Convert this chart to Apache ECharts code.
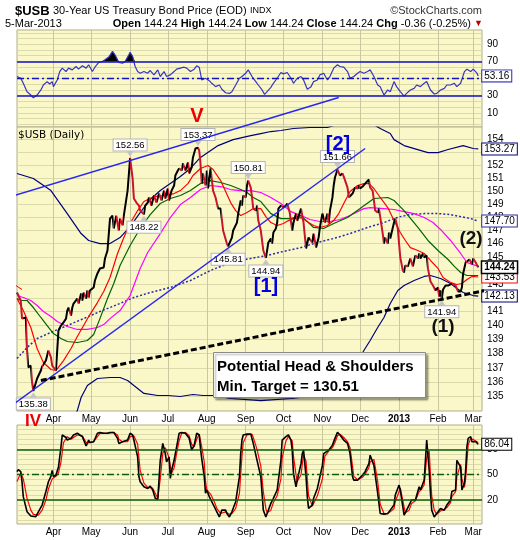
<!DOCTYPE html>
<html><head><meta charset="utf-8">
<script src="https://cdn.jsdelivr.net/npm/echarts@6/dist/echarts.min.js"></script>
<style>html,body{margin:0;padding:0;background:#fff}#c{width:520px;height:540px}</style>
</head><body><div id="c"></div>
<script>
// ---------- tick labels ----------
const monthTicks = ['2012-04-01','2012-05-01','2012-06-01','2012-07-01','2012-08-01','2012-09-01','2012-10-01','2012-11-01','2012-12-01','2013-01-01','2013-02-01','2013-03-01'];
const priceTicks = [135,136,137,138,139,140,141,142,143,144,145,146,147,148,149,150,151,152,153,154];
const rsiTicks = [10,30,50,70,90];
const rsiGridLines = [-3.33,3.33,10,16.67,23.33,30,36.67,43.33,50,56.67,63.33,70,76.67,83.33,90,96.67,103.33];
const stochTicks = [20,50,80];
const stochGridLines = [-4,2,8,14,20,26,32,38,44,50,56,62,68,74,80,86,92,98,104];
const quoteLine = [['Open','144.24'],['High','144.24'],['Low','144.24'],['Close','144.24'],['Chg','-0.36 (-0.25%)']];

// ---------- data ----------
const usbClose = [
['2012-03-03',142.39],['2012-03-06',141.81],['2012-03-07',140.50],['2012-03-08',140.36],['2012-03-10',140.58],
['2012-03-11',138.22],['2012-03-12',137.02],['2012-03-14',137.16],['2012-03-15',135.97],['2012-03-16',135.38],
['2012-03-19',136.25],['2012-03-22',136.81],['2012-03-23',137.09],['2012-03-24',137.02],['2012-03-26',137.51],
['2012-03-27',137.87],['2012-03-28',138.22],['2012-03-30',137.73],['2012-03-31',137.16],['2012-04-03',136.81],
['2012-04-04',138.22],['2012-04-05',139.65],['2012-04-07',140.00],['2012-04-09',140.22],['2012-04-11',140.50],
['2012-04-12',141.08],['2012-04-13',141.30],['2012-04-15',140.72],['2012-04-16',141.30],['2012-04-17',141.59],
['2012-04-20',141.95],['2012-04-21',141.59],['2012-04-23',142.32],['2012-04-24',141.81],['2012-04-25',142.39],
['2012-04-27',141.95],['2012-04-28',142.54],['2012-04-29',142.03],['2012-04-30',142.54],['2012-05-03',142.76],
['2012-05-04',143.27],['2012-05-06',143.79],['2012-05-07',143.86],['2012-05-08',144.16],['2012-05-11',144.23],
['2012-05-12',144.90],['2012-05-14',145.49],['2012-05-16',147.89],['2012-05-18',148.12],['2012-05-19',147.14],
['2012-05-21',148.12],['2012-05-23',146.99],['2012-05-24',147.89],['2012-05-26',147.37],['2012-05-27',148.12],
['2012-05-30',150.03],['2012-06-01',152.56],['2012-06-03',150.96],['2012-06-04',149.42],['2012-06-06',149.11],
['2012-06-08',148.88],['2012-06-09',148.50],['2012-06-12',148.22],['2012-06-13',148.88],['2012-06-15',149.11],
['2012-06-16',149.50],['2012-06-18',148.88],['2012-06-20',149.65],['2012-06-22',149.11],['2012-06-24',149.80],
['2012-06-26',149.27],['2012-06-28',150.03],['2012-06-29',149.42],['2012-07-01',150.19],['2012-07-02',149.27],
['2012-07-04',150.03],['2012-07-06',150.42],['2012-07-07',151.19],['2012-07-09',151.58],['2012-07-10',151.74],
['2012-07-12',151.58],['2012-07-13',152.13],['2012-07-15',151.58],['2012-07-17',152.21],['2012-07-18',151.35],
['2012-07-20',151.82],['2012-07-21',152.60],['2012-07-23',153.30],['2012-07-25',153.37],['2012-07-26',153.14],
['2012-07-27',152.13],['2012-07-28',150.57],['2012-07-29',151.35],['2012-07-31',150.42],['2012-08-01',151.58],
['2012-08-02',150.19],['2012-08-04',151.74],['2012-08-06',150.03],['2012-08-08',149.50],['2012-08-10',148.65],
['2012-08-12',148.65],['2012-08-14',146.99],['2012-08-17',146.01],['2012-08-18',145.81],['2012-08-21',146.46],
['2012-08-22',146.99],['2012-08-25',147.59],['2012-08-26',148.27],['2012-08-28',149.27],['2012-08-29',148.88],
['2012-08-30',149.65],['2012-09-01',149.50],['2012-09-02',150.42],['2012-09-03',150.81],['2012-09-05',150.26],
['2012-09-06',149.50],['2012-09-07',148.65],['2012-09-09',148.50],['2012-09-10',148.88],['2012-09-11',147.74],
['2012-09-13',146.99],['2012-09-15',145.49],['2012-09-17',144.94],['2012-09-18',145.49],['2012-09-19',146.09],
['2012-09-21',146.39],['2012-09-22',146.01],['2012-09-23',146.84],['2012-09-25',147.14],['2012-09-26',147.59],
['2012-09-27',148.65],['2012-09-29',148.88],['2012-10-01',148.73],['2012-10-03',148.88],['2012-10-04',149.04],
['2012-10-06',148.35],['2012-10-08',146.99],['2012-10-09',147.59],['2012-10-11',148.27],['2012-10-12',147.74],
['2012-10-15',148.65],['2012-10-16',148.50],['2012-10-17',147.59],['2012-10-19',145.64],['2012-10-21',146.46],
['2012-10-22',146.61],['2012-10-24',146.09],['2012-10-25',146.76],['2012-10-27',145.71],['2012-10-29',146.46],
['2012-10-30',147.22],['2012-11-01',148.27],['2012-11-02',148.35],['2012-11-03',147.59],['2012-11-05',148.27],
['2012-11-06',147.52],['2012-11-07',148.50],['2012-11-09',149.50],['2012-11-10',150.42],['2012-11-11',151.04],
['2012-11-13',151.66],['2012-11-15',151.19],['2012-11-17',151.35],['2012-11-18',151.11],['2012-11-21',150.26],
['2012-11-22',149.50],['2012-11-23',149.42],['2012-11-25',149.80],['2012-11-26',150.03],['2012-11-27',150.26],
['2012-11-29',150.19],['2012-11-30',150.42],['2012-12-01',150.19],['2012-12-03',150.34],['2012-12-05',150.57],
['2012-12-08',150.88],['2012-12-09',150.26],['2012-12-11',150.03],['2012-12-12',149.27],['2012-12-13',148.50],
['2012-12-15',148.35],['2012-12-16',148.65],['2012-12-17',148.50],['2012-12-19',146.76],['2012-12-20',146.01],
['2012-12-21',146.46],['2012-12-23',146.01],['2012-12-24',146.84],['2012-12-25',146.39],['2012-12-28',147.59],
['2012-12-29',147.89],['2012-12-31',147.14],['2013-01-01',146.01],['2013-01-02',144.97],['2013-01-04',144.01],
['2013-01-05',143.86],['2013-01-06',144.38],['2013-01-08',144.31],['2013-01-09',144.60],['2013-01-10',144.90],
['2013-01-12',144.31],['2013-01-13',144.75],['2013-01-14',145.12],['2013-01-16',144.90],['2013-01-17',145.27],
['2013-01-18',144.90],['2013-01-20',145.27],['2013-01-21',144.97],['2013-01-23',145.12],['2013-01-24',144.16],
['2013-01-26',143.20],['2013-01-28',142.90],['2013-01-30',142.54],['2013-02-01',142.76],['2013-02-02',142.10],
['2013-02-03',142.54],['2013-02-04',141.94],['2013-02-05',142.61],['2013-02-07',142.90],['2013-02-09',142.90],
['2013-02-12',143.05],['2013-02-15',142.90],['2013-02-17',142.46],['2013-02-19',142.46],['2013-02-20',142.76],
['2013-02-21',143.79],['2013-02-23',144.60],['2013-02-24',144.53],['2013-02-26',144.82],['2013-02-28',144.46],
['2013-03-01',144.90],['2013-03-03',144.60],['2013-03-05',144.24]
];
const peakHighs = [['2012-06-01',152.56],['2012-07-25',153.37],['2012-09-03',150.81],['2012-11-13',151.66]];
const peakLows = [['2012-03-16',135.38],['2012-06-12',148.22],['2012-08-18',145.81],['2012-09-17',144.94],['2013-02-04',141.94]];

const maRed = [
['2012-03-03',141.95],['2012-03-08',141.08],['2012-03-14',139.86],['2012-03-19',138.36],['2012-03-24',137.37],
['2012-03-30',136.88],['2012-04-03',136.81],['2012-04-09',137.51],['2012-04-15',138.36],['2012-04-20',139.22],
['2012-04-25',140.00],['2012-04-30',140.79],['2012-05-06',141.66],['2012-05-11',142.46],['2012-05-16',143.49],
['2012-05-22',145.27],['2012-05-27',146.46],['2012-06-01',147.52],['2012-06-07',148.50],['2012-06-12',149.19],
['2012-06-20',149.57],['2012-06-28',149.65],['2012-07-06',149.80],['2012-07-11',150.03],['2012-07-17',150.57],
['2012-07-21',151.19],['2012-07-27',151.74],['2012-08-02',151.97],['2012-08-06',151.66],['2012-08-12',150.80],
['2012-08-16',149.96],['2012-08-20',149.11],['2012-08-24',148.50],['2012-08-28',148.12],['2012-09-02',148.35],
['2012-09-07',148.65],['2012-09-13',148.65],['2012-09-17',148.04],['2012-09-21',147.59],['2012-09-26',147.37],
['2012-10-01',147.52],['2012-10-05',147.74],['2012-10-09',147.89],['2012-10-15',147.97],['2012-10-21',147.59],
['2012-10-25',147.37],['2012-10-30',147.22],['2012-11-05',147.37],['2012-11-10',147.74],['2012-11-14',148.27],
['2012-11-18',149.04],['2012-11-23',149.96],['2012-11-29',150.42],['2012-12-04',150.57],['2012-12-08',150.57],
['2012-12-12',150.19],['2012-12-17',149.50],['2012-12-23',148.73],['2012-12-28',147.74],['2013-01-02',146.84],
['2013-01-06',146.24],['2013-01-10',145.71],['2013-01-16',145.49],['2013-01-21',145.27],['2013-01-26',144.75],
['2013-02-01',144.16],['2013-02-05',143.49],['2013-02-11',143.12],['2013-02-16',142.98],['2013-02-20',143.05],
['2013-02-24',143.35],['2013-02-28',143.57],['2013-03-05',143.53]
];
const maGreen = [
['2012-03-03',141.95],['2012-03-06',141.81],['2012-03-11',141.81],['2012-03-16',141.30],['2012-03-22',140.58],
['2012-03-27',140.00],['2012-04-01',139.43],['2012-04-07',139.07],['2012-04-12',138.86],['2012-04-20',138.79],
['2012-04-28',138.93],['2012-05-03',139.36],['2012-05-08',140.50],['2012-05-14',141.95],['2012-05-19',143.05],
['2012-05-24',144.38],['2012-06-01',145.86],['2012-06-09',147.14],['2012-06-17',148.19],['2012-06-25',149.04],
['2012-07-03',149.42],['2012-07-11',149.65],['2012-07-19',150.03],['2012-07-27',150.57],['2012-08-04',150.80],
['2012-08-12',150.65],['2012-08-20',150.42],['2012-08-28',150.11],['2012-09-02',149.88],['2012-09-07',149.50],
['2012-09-13',149.19],['2012-09-21',148.27],['2012-09-29',147.89],['2012-10-07',147.89],['2012-10-15',148.12],
['2012-10-25',147.22],['2012-11-02',147.14],['2012-11-10',147.52],['2012-11-21',147.97],['2012-12-01',148.65],
['2012-12-12',149.42],['2012-12-23',149.50],['2012-12-28',149.27],['2013-01-05',148.50],['2013-01-16',147.22],
['2013-01-24',146.24],['2013-02-01',145.49],['2013-02-09',144.82],['2013-02-14',144.31],['2013-02-19',143.86],
['2013-02-24',143.64],['2013-03-05',143.64]
];
const maMagenta = [
['2012-03-03',142.17],['2012-03-08',142.03],['2012-03-14',141.81],['2012-03-19',141.45],['2012-03-24',141.01],
['2012-03-30',140.65],['2012-04-04',140.29],['2012-04-12',139.93],['2012-04-20',139.72],['2012-04-28',139.72],
['2012-05-06',139.86],['2012-05-11',140.07],['2012-05-16',140.50],['2012-05-24',141.08],['2012-06-01',142.17],
['2012-06-09',144.16],['2012-06-15',145.34],['2012-06-25',146.76],['2012-07-03',147.97],['2012-07-11',148.96],
['2012-07-19',149.50],['2012-07-27',150.11],['2012-08-04',150.42],['2012-08-12',150.34],['2012-08-20',150.11],
['2012-08-28',150.03],['2012-09-05',150.03],['2012-09-13',149.88],['2012-09-21',149.50],['2012-09-29',149.04],
['2012-10-07',148.42],['2012-10-15',148.12],['2012-10-22',147.82],['2012-10-30',147.67],['2012-11-07',147.67],
['2012-11-15',147.82],['2012-11-23',148.12],['2012-11-29',148.42],['2012-12-04',148.65],['2012-12-09',148.73],
['2012-12-20',148.65],['2012-12-28',148.58],['2013-01-05',148.42],['2013-01-13',148.27],['2013-01-21',147.97],
['2013-01-28',147.59],['2013-02-03',147.07],['2013-02-11',146.24],['2013-02-19',145.27],['2013-02-24',144.60],
['2013-03-05',144.31]
];
const ma200 = [
['2012-03-03',137.65],['2012-03-11',138.43],['2012-03-19',139.07],['2012-03-30',139.51],['2012-04-12',140.00],
['2012-04-25',140.50],['2012-05-08',141.01],['2012-05-22',141.52],['2012-06-04',142.03],['2012-06-17',142.39],
['2012-07-03',142.76],['2012-07-19',143.27],['2012-08-04',144.01],['2012-08-20',144.60],['2012-09-05',144.90],
['2012-09-18',145.12],['2012-10-01',145.42],['2012-10-15',145.71],['2012-10-28',146.09],['2012-11-10',146.39],
['2012-11-23',146.76],['2012-12-07',147.22],['2012-12-20',147.59],['2012-12-28',147.89],['2013-01-02',148.04],
['2013-01-10',148.19],['2013-01-21',148.27],['2013-02-01',148.27],['2013-02-11',148.19],['2013-02-19',148.04],
['2013-02-27',147.89],['2013-03-05',147.70]
];
const bandUpper = [
['2012-03-03',151.35],['2012-03-16',150.96],['2012-03-30',150.03],['2012-04-12',148.27],['2012-04-23',146.76],
['2012-04-29',146.24],['2012-05-08',146.01],['2012-05-16',146.01],['2012-05-24',146.46],['2012-06-01',147.29],
['2012-06-09',148.35],['2012-06-17',149.35],['2012-06-25',150.03],['2012-07-03',150.57],['2012-07-11',151.11],
['2012-07-19',151.74],['2012-07-27',152.60],['2012-08-10',153.53],['2012-08-22',154.00],['2012-09-05',154.32],
['2012-09-13',154.48],['2012-09-21',154.64],['2012-09-29',154.72],['2012-10-09',154.88],['2012-10-22',154.96],
['2012-11-05',154.96],['2012-11-15',155.28],['2012-12-01',155.36],['2012-12-13',155.12],['2012-12-17',154.88],
['2012-12-25',154.48],['2012-12-28',154.00],['2013-01-05',153.53],['2013-01-24',152.98],['2013-02-01',152.98],
['2013-02-09',153.22],['2013-02-21',153.53],['2013-03-01',153.30],['2013-03-05',153.27]
];
const bandLower = [
['2012-04-16',133.01],['2012-04-20',134.03],['2012-04-23',134.93],['2012-04-28',135.76],['2012-05-06',136.25],
['2012-05-16',136.32],['2012-05-24',136.32],['2012-05-30',136.11],['2012-06-04',135.76],['2012-06-12',135.21],
['2012-06-23',135.07],['2012-07-01',135.07],['2012-07-11',135.00],['2012-07-21',135.14],['2012-07-29',135.07],
['2012-08-06',135.07],['2012-08-20',134.86],['2012-09-13',134.72],['2012-10-07',134.86],['2012-10-30',135.07],
['2012-11-19',136.11],['2012-11-27',137.16],['2012-12-04',138.22],['2012-12-09',138.93],['2012-12-15',139.86],
['2012-12-20',140.58],['2012-12-25',141.59],['2012-12-31',142.54],['2013-01-05',142.90],['2013-01-13',143.27],
['2013-01-21',143.57],['2013-01-26',143.64],['2013-02-03',143.42],['2013-02-11',143.05],['2013-02-16',142.68],
['2013-02-21',142.39],['2013-03-01',142.17],['2013-03-05',142.13]
];
const trendUpper = [['2012-02-19',149.34],['2012-11-14',157.36]];
const trendLower = [['2012-02-19',133.83],['2012-12-05',153.30]];
const necklineHS = [['2012-03-22',136.11],['2013-04-07',143.05]];
const redStubA = [['2012-02-19',143.64],['2012-03-07',142.61]];
const redStubB = [['2012-02-19',140.58],['2012-03-02',140.72]];

const rsi14 = [
['2012-03-03',52.4],['2012-03-06',50.4],['2012-03-08',44.5],['2012-03-11',34.7],['2012-03-14',30.8],
['2012-03-16',27.6],['2012-03-19',30.8],['2012-03-22',36.7],['2012-03-24',42.5],['2012-03-27',46.5],
['2012-03-29',43.7],['2012-03-31',46.5],['2012-04-01',40.6],['2012-04-04',48.4],['2012-04-06',58.2],
['2012-04-08',62.2],['2012-04-11',58.2],['2012-04-13',62.2],['2012-04-16',60.2],['2012-04-19',64.1],
['2012-04-21',61.0],['2012-04-24',64.9],['2012-04-27',62.2],['2012-04-29',66.1],['2012-05-02',58.2],
['2012-05-04',63.3],['2012-05-07',68.8],['2012-05-10',70.0],['2012-05-12',72.0],['2012-05-15',75.1],
['2012-05-18',81.8],['2012-05-20',77.8],['2012-05-23',68.8],['2012-05-26',68.0],['2012-05-28',70.0],
['2012-05-31',77.8],['2012-06-01',80.6],['2012-06-03',75.9],['2012-06-05',64.1],['2012-06-07',58.2],
['2012-06-09',56.3],['2012-06-12',58.2],['2012-06-15',56.3],['2012-06-17',59.4],['2012-06-20',54.3],
['2012-06-23',60.2],['2012-06-25',52.4],['2012-06-28',58.2],['2012-06-30',52.4],['2012-07-03',54.3],
['2012-07-06',58.2],['2012-07-08',61.0],['2012-07-11',62.2],['2012-07-14',63.3],['2012-07-16',62.2],
['2012-07-19',58.2],['2012-07-22',61.0],['2012-07-24',64.9],['2012-07-26',63.3],['2012-07-28',48.4],
['2012-07-31',50.4],['2012-08-03',47.6],['2012-08-05',44.5],['2012-08-08',40.6],['2012-08-11',42.5],
['2012-08-13',37.5],['2012-08-16',33.5],['2012-08-19',32.7],['2012-08-21',34.7],['2012-08-24',42.5],
['2012-08-27',50.4],['2012-08-29',52.4],['2012-09-01',56.3],['2012-09-03',60.2],['2012-09-06',52.4],
['2012-09-09',46.5],['2012-09-11',42.5],['2012-09-14',36.7],['2012-09-16',31.6],['2012-09-18',34.7],
['2012-09-21',39.8],['2012-09-23',44.5],['2012-09-26',50.4],['2012-09-29',57.1],['2012-10-01',55.5],
['2012-10-04',57.1],['2012-10-07',50.4],['2012-10-09',44.5],['2012-10-12',50.4],['2012-10-15',52.4],
['2012-10-17',48.4],['2012-10-20',37.5],['2012-10-23',40.6],['2012-10-25',46.5],['2012-10-28',48.4],
['2012-10-30',54.3],['2012-11-02',56.3],['2012-11-05',48.4],['2012-11-07',52.4],['2012-11-10',62.2],
['2012-11-13',66.1],['2012-11-15',64.1],['2012-11-18',63.3],['2012-11-21',58.2],['2012-11-23',50.4],
['2012-11-26',52.4],['2012-11-29',56.3],['2012-12-01',58.2],['2012-12-04',56.3],['2012-12-07',58.2],
['2012-12-09',60.2],['2012-12-12',52.4],['2012-12-15',42.5],['2012-12-17',40.6],['2012-12-20',30.8],
['2012-12-23',36.7],['2012-12-25',34.7],['2012-12-28',46.5],['2012-12-30',40.6],['2013-01-02',34.7],
['2013-01-05',29.6],['2013-01-07',32.7],['2013-01-10',36.7],['2013-01-13',38.6],['2013-01-15',42.5],
['2013-01-18',40.6],['2013-01-21',44.5],['2013-01-23',46.5],['2013-01-26',36.7],['2013-01-29',32.0],
['2013-01-31',32.7],['2013-02-03',36.7],['2013-02-06',38.6],['2013-02-08',42.5],['2013-02-11',42.5],
['2013-02-14',44.5],['2013-02-16',40.6],['2013-02-19',44.5],['2013-02-22',58.2],['2013-02-24',61.0],
['2013-02-27',58.2],['2013-03-01',61.0],['2013-03-04',56.3],['2013-03-05',53.16]
];

const stochK = [
['2012-03-03',53.5],['2012-03-04',56],['2012-03-06',53.5],['2012-03-07',41.5],['2012-03-08',24],
['2012-03-10',12],['2012-03-11',6],['2012-03-14',1],['2012-03-15',0],['2012-03-18',0.2],
['2012-03-20',6],['2012-03-23',14],['2012-03-26',30],['2012-03-28',41.6],['2012-03-30',48],
['2012-03-31',55],['2012-04-01',47.6],['2012-04-03',49.6],['2012-04-05',59],['2012-04-07',83],
['2012-04-08',97],['2012-04-09',99],['2012-04-11',94],['2012-04-12',91],['2012-04-15',93],
['2012-04-17',97],['2012-04-20',99],['2012-04-22',97],['2012-04-24',95],['2012-04-27',84],
['2012-04-28',87],['2012-04-29',91],['2012-04-30',88],['2012-05-03',89],['2012-05-06',99],
['2012-05-08',100],['2012-05-11',99],['2012-05-14',99],['2012-05-16',100],['2012-05-19',100],
['2012-05-22',93],['2012-05-23',87],['2012-05-26',89],['2012-05-27',87],['2012-05-30',91],
['2012-06-01',99],['2012-06-03',97],['2012-06-04',91],['2012-06-07',71],['2012-06-08',47.6],
['2012-06-09',41.6],['2012-06-12',35.7],['2012-06-15',33.7],['2012-06-17',36.5],['2012-06-19',31.8],
['2012-06-21',22],['2012-06-23',20.7],['2012-06-25',67],['2012-06-27',87],['2012-06-28',87],
['2012-06-29',75],['2012-06-30',65],['2012-07-02',71],['2012-07-03',45.6],['2012-07-04',55],
['2012-07-06',67],['2012-07-08',83],['2012-07-10',99],['2012-07-12',100],['2012-07-15',99],
['2012-07-18',93],['2012-07-19',91],['2012-07-20',79],['2012-07-22',85],['2012-07-24',99],
['2012-07-26',97],['2012-07-27',81],['2012-07-28',69],['2012-07-30',47.6],['2012-07-31',28],
['2012-08-01',31.8],['2012-08-03',24],['2012-08-04',26],['2012-08-07',12],['2012-08-09',6],
['2012-08-11',0],['2012-08-12',4],['2012-08-13',8],['2012-08-16',8],['2012-08-17',4],
['2012-08-19',0],['2012-08-21',6],['2012-08-24',18],['2012-08-27',47.6],['2012-08-28',75],
['2012-08-29',91],['2012-08-30',97],['2012-09-02',98],['2012-09-05',98],['2012-09-06',97],
['2012-09-07',87],['2012-09-10',67],['2012-09-13',47.6],['2012-09-15',8],['2012-09-17',0],
['2012-09-18',2],['2012-09-21',16],['2012-09-23',22],['2012-09-26',31.8],['2012-09-29',67],
['2012-09-30',91],['2012-10-03',95],['2012-10-05',97],['2012-10-07',91],['2012-10-08',79],
['2012-10-09',51.4],['2012-10-11',35.7],['2012-10-12',43.5],['2012-10-15',63],['2012-10-16',75],
['2012-10-17',79],['2012-10-19',47.6],['2012-10-20',24],['2012-10-21',10],['2012-10-24',14],
['2012-10-25',22],['2012-10-28',33.7],['2012-10-29',31.8],['2012-11-01',61],['2012-11-02',75],
['2012-11-03',77],['2012-11-06',79],['2012-11-09',85],['2012-11-11',93],['2012-11-13',100],
['2012-11-15',97],['2012-11-18',91],['2012-11-21',87],['2012-11-23',75],['2012-11-25',47.6],
['2012-11-26',43.5],['2012-11-29',43.5],['2012-11-30',45.6],['2012-12-03',49.6],['2012-12-05',53.5],
['2012-12-08',63],['2012-12-09',73],['2012-12-12',61],['2012-12-15',28],['2012-12-17',4],
['2012-12-20',3.3],['2012-12-23',4],['2012-12-25',8],['2012-12-28',14],['2012-12-29',26],
['2013-01-01',37.6],['2013-01-02',31.8],['2013-01-05',2],['2013-01-06',0],['2013-01-09',14],
['2013-01-10',15.8],['2013-01-11',20],['2013-01-14',20],['2013-01-17',35.7],['2013-01-18',31.8],
['2013-01-19',35.7],['2013-01-21',43.5],['2013-01-23',91],['2013-01-25',55],['2013-01-26',28],
['2013-01-27',8],['2013-01-29',0],['2013-01-31',4],['2013-02-03',10],['2013-02-06',8],
['2013-02-08',14],['2013-02-11',20],['2013-02-12',30],['2013-02-15',31.8],['2013-02-16',67],
['2013-02-19',59],['2013-02-20',31.8],['2013-02-22',39.6],['2013-02-23',55],['2013-02-24',83],
['2013-02-25',93],['2013-02-27',95],['2013-02-28',89],['2013-03-03',89],['2013-03-04',87],
['2013-03-05',86.04]
];
const stochD = [
['2012-03-03',42],['2012-03-06',52],['2012-03-08',45],['2012-03-11',22],['2012-03-14',8],
['2012-03-16',3],['2012-03-20',2],['2012-03-23',8],['2012-03-26',20],['2012-03-28',33],
['2012-03-31',45],['2012-04-03',48],['2012-04-05',52],['2012-04-07',65],['2012-04-09',88],
['2012-04-12',95],['2012-04-15',92],['2012-04-20',97],['2012-04-24',96],['2012-04-27',88],
['2012-04-30',88],['2012-05-03',89],['2012-05-06',95],['2012-05-08',99],['2012-05-14',99],
['2012-05-19',100],['2012-05-22',97],['2012-05-23',92],['2012-05-26',89],['2012-05-30',89],
['2012-06-01',95],['2012-06-04',96],['2012-06-07',86],['2012-06-09',55],['2012-06-12',40],
['2012-06-15',35],['2012-06-19',34],['2012-06-21',28],['2012-06-23',22],['2012-06-25',45],
['2012-06-27',75],['2012-06-29',82],['2012-07-02',70],['2012-07-03',60],['2012-07-04',52],
['2012-07-06',58],['2012-07-08',75],['2012-07-10',90],['2012-07-12',99],['2012-07-15',100],
['2012-07-18',96],['2012-07-20',86],['2012-07-22',83],['2012-07-24',92],['2012-07-26',98],
['2012-07-28',83],['2012-07-30',65],['2012-07-31',42],['2012-08-01',32],['2012-08-04',27],
['2012-08-07',18],['2012-08-09',10],['2012-08-12',4],['2012-08-16',6],['2012-08-19',3],
['2012-08-21',4],['2012-08-24',10],['2012-08-27',28],['2012-08-28',50],['2012-08-29',72],
['2012-08-30',88],['2012-09-02',97],['2012-09-06',98],['2012-09-07',94],['2012-09-10',80],
['2012-09-13',60],['2012-09-15',30],['2012-09-17',10],['2012-09-18',5],['2012-09-21',8],
['2012-09-23',17],['2012-09-26',25],['2012-09-29',45],['2012-09-30',70],['2012-10-03',90],
['2012-10-05',95],['2012-10-08',90],['2012-10-09',72],['2012-10-11',50],['2012-10-12',42],
['2012-10-15',50],['2012-10-16',62],['2012-10-17',73],['2012-10-19',66],['2012-10-20',45],
['2012-10-21',25],['2012-10-24',13],['2012-10-28',25],['2012-10-29',30],['2012-11-01',45],
['2012-11-02',60],['2012-11-03',72],['2012-11-06',78],['2012-11-09',82],['2012-11-11',88],
['2012-11-13',96],['2012-11-15',98],['2012-11-18',94],['2012-11-21',89],['2012-11-23',82],
['2012-11-25',60],['2012-11-26',48],['2012-11-29',44],['2012-12-03',47],['2012-12-05',51],
['2012-12-08',58],['2012-12-09',65],['2012-12-12',68],['2012-12-15',42],['2012-12-17',15],
['2012-12-20',4],['2012-12-23',4],['2012-12-25',6],['2012-12-28',10],['2012-12-29',18],
['2013-01-01',30],['2013-01-02',34],['2013-01-05',12],['2013-01-06',5],['2013-01-09',8],
['2013-01-11',16],['2013-01-14',19],['2013-01-17',30],['2013-01-19',33],['2013-01-21',38],
['2013-01-23',70],['2013-01-25',78],['2013-01-26',50],['2013-01-27',25],['2013-01-29',8],
['2013-01-31',3],['2013-02-03',7],['2013-02-06',9],['2013-02-08',11],['2013-02-11',17],
['2013-02-12',24],['2013-02-15',30],['2013-02-16',48],['2013-02-19',62],['2013-02-20',45],
['2013-02-22',35],['2013-02-23',45],['2013-02-24',65],['2013-02-25',85],['2013-02-27',93],
['2013-02-28',92],['2013-03-03',90],['2013-03-05',88]
];

// ---------- helpers ----------
function ts(s){const a=s.split('-').map(Number);return new Date(a[0],a[1]-1,a[2]).getTime();}
const L = Math.log;
const xy = arr => arr.map(d => [ts(d[0]), d[1]]);
const xyLog = arr => arr.map(d => [ts(d[0]), L(d[1])]);
const MON = ['Jan','Feb','Mar','Apr','May','Jun','Jul','Aug','Sep','Oct','Nov','Dec'];
const FONT = 'Liberation Sans, Arial, sans-serif';
const BG = '#faf8c9', HGRID = '#dcd9aa', VGRID = '#c9c79f';
const X0 = ts('2012-03-03'), X1 = ts('2013-03-08');
const upColor = '#000000', downColor = '#c8142c';

const monthVals = monthTicks.map(ts);
function xAxisFor(i, showLabels){
  return {type:'value', gridIndex:i, min:X0, max:X1,
    axisLine:{show:false}, axisTick:{show:false, customValues:monthVals},
    splitLine:{show:true, lineStyle:{color:VGRID, width:1}},
    axisLabel:{show:showLabels, customValues:monthVals, margin:3, fontSize:10, color:'#000', fontFamily:FONT,
      formatter: v => { const d=new Date(v); return d.getMonth()===0 ? '{y|'+d.getFullYear()+'}' : MON[d.getMonth()]; },
      rich:{y:{fontWeight:'bold', fontSize:10, fontFamily:FONT, color:'#000'}}}
  };
}
function flag(color, bold){
  return {show:true, distance:4, fontSize:10, fontFamily:FONT, color:'#000', fontWeight: bold?'bold':'normal',
    backgroundColor:'#fff', borderColor:color, borderWidth: bold?1.5:1, padding:[1,2,0,2], lineHeight:10,
    formatter: p => Math.exp(p.value[1]).toFixed(2)};
}
function mainLine(data, color, width, extra){
  return Object.assign({type:'line', xAxisIndex:1, yAxisIndex:1, data: xyLog(data), showSymbol:false, symbol:'none',
    lineStyle:{color:color, width:width}, itemStyle:{color:color}, silent:true, z:3, emphasis:{disabled:true}}, extra||{});
}

// down-day pieces for coloring the price line
const downPieces = [];
for (let i=0;i<usbClose.length-1;i++){
  if (usbClose[i+1][1] < usbClose[i][1]) {
    const a = ts(usbClose[i][0]), b = ts(usbClose[i+1][0]);
    const last = downPieces[downPieces.length-1];
    if (last && last.lte === a) last.lte = b; else downPieces.push({gte:a, lte:b, color:downColor});
  }
}

const series = [];
// RSI
series.push({type:'line', xAxisIndex:0, yAxisIndex:0, data: xy(rsi14).map(d=>[d[0], Math.max(d[1],70)]),
  showSymbol:false, symbol:'none', lineStyle:{width:0, opacity:0}, areaStyle:{color:'#000', opacity:1, origin:70}, silent:true, z:2});
series.push({type:'line', xAxisIndex:0, yAxisIndex:0, data: xy(rsi14), showSymbol:false, symbol:'none',
  lineStyle:{color:'#3535c4', width:1.2}, itemStyle:{color:'#3535c4'}, silent:true, z:3,
  endLabel:{show:true, distance:4, fontSize:10, fontFamily:FONT, color:'#000', backgroundColor:'#fff', borderColor:'#2a2ab8', borderWidth:1, padding:[1,2,0,2], lineHeight:10, formatter:p=>p.value[1].toFixed(2)},
  markLine:{silent:true, symbol:['none','none'], label:{show:false}, animation:false,
    lineStyle:{color:'#1212c0', width:1.5, type:'solid'},
    data:[{yAxis:70},{yAxis:30},{yAxis:50, lineStyle:{type:[7,3,2,3], width:1.3}}]}});
// main panel
series.push(mainLine(bandLower, '#00007a', 1.2, {endLabel: flag('#00007a')}));
series.push(mainLine(bandUpper, '#00007a', 1.2, {endLabel: flag('#00007a')}));
series.push(mainLine(ma200, '#2a2aa8', 1.5, {lineStyle:{color:'#2a2aa8', width:1.5, type:[2,2]}, endLabel: flag('#2a2aa8')}));
series.push(mainLine(maMagenta, '#ff00ff', 1.2));
series.push(mainLine(maGreen, '#006400', 1.2));
series.push(mainLine(maRed, '#ff0000', 1.2, {z:4, endLabel: flag('#ff0000')}));
const priceIndex = series.length;
series.push(mainLine(usbClose, '#000', 2, {z:5, lineStyle:{width:2}, itemStyle:{}, endLabel: flag('#000', true),
  markPoint:{silent:true, symbol:'triangle', symbolSize:[7,5], itemStyle:{color:'#c4c4c4'}, animation:false,
    label:{show:true, fontSize:9.5, fontFamily:FONT, color:'#000', backgroundColor:'#fff', borderColor:'#b4b4b4', borderWidth:1, padding:[1,2,0,2], lineHeight:10, formatter:p=>p.value.toFixed(2)},
    data: peakHighs.map(d=>({coord:[ts(d[0]), L(d[1])], value:d[1], symbolRotate:180, symbolOffset:[0,-4], label:{position:'top', distance:1}}))
      .concat(peakLows.map(d=>({coord:[ts(d[0]), L(d[1])], value:d[1], symbolRotate:0, symbolOffset:[0,4], label:{position:'bottom', distance:1}})))}}));
series.push(mainLine(trendUpper, '#2626f0', 1.5, {clip:false, z:6}));
series.push(mainLine(trendLower, '#2626f0', 1.5, {clip:false, z:6}));
series.push(mainLine(necklineHS, '#000', 3, {clip:false, z:7, lineStyle:{color:'#000', width:3, type:[6,3]}}));
series.push(mainLine(redStubA, '#ff0000', 1, {clip:false}));
series.push(mainLine(redStubB, '#ff0000', 1, {clip:false}));
// stochastics
series.push({type:'line', xAxisIndex:2, yAxisIndex:2, data: xy(stochD), showSymbol:false, symbol:'none',
  lineStyle:{color:'#ff0000', width:1.2}, silent:true, z:3});
series.push({type:'line', xAxisIndex:2, yAxisIndex:2, data: xy(stochK), showSymbol:false, symbol:'none',
  lineStyle:{color:'#000', width:1.6}, silent:true, z:4,
  endLabel:{show:true, distance:4, fontSize:10, fontFamily:FONT, color:'#000', backgroundColor:'#fff', borderColor:'#000', borderWidth:1, padding:[1,2,0,2], lineHeight:10, formatter:p=>p.value[1].toFixed(2)},
  markLine:{silent:true, symbol:['none','none'], label:{show:false}, animation:false,
    lineStyle:{color:'#0b5e0b', width:1.5, type:'solid'},
    data:[{yAxis:80},{yAxis:20},{yAxis:50, lineStyle:{type:[7,3,2,3], width:1.3}}]}});

const txt = (x, y, text, font, fill, align, extra) => Object.assign({type:'text', z:100, silent:true,
  style:{x:x, y:y, text:text, font:font, fill:fill, align:align||'left', textAlign:align||'left', verticalAlign:'middle', textVerticalAlign:'middle'}}, extra||{});

const quoteText = quoteLine.map(q => '{b|'+q[0]+'} '+q[1]).join(' ') + ' {r|\u25BC}';

const option = {
  animation:false,
  backgroundColor:'#fff',
  textStyle:{fontFamily:FONT},
  grid:[
    {left:17, right:38, top:30, height:97, show:true, backgroundColor:BG, borderColor:'#b0ae8c', borderWidth:1},
    {left:17, right:38, top:127, height:284, show:true, backgroundColor:BG, borderColor:'#b0ae8c', borderWidth:1},
    {left:17, right:38, top:425, height:99, show:true, backgroundColor:BG, borderColor:'#b0ae8c', borderWidth:1}
  ],
  xAxis:[xAxisFor(0,false), xAxisFor(1,true), xAxisFor(2,true)],
  yAxis:[
    {type:'value', gridIndex:0, position:'right', min:-6.5, max:106.7, axisLine:{show:false},
      axisTick:{show:false, customValues:rsiGridLines}, splitLine:{show:true, lineStyle:{color:HGRID}},
      axisLabel:{customValues:rsiTicks, margin:5, fontSize:10, color:'#000', fontFamily:FONT}},
    {type:'value', gridIndex:1, position:'right', min:L(134), max:L(155), axisLine:{show:false},
      axisTick:{show:false, customValues:priceTicks.map(L)}, splitLine:{show:true, lineStyle:{color:HGRID}},
      axisLabel:{customValues:priceTicks.map(L), margin:5, fontSize:10, color:'#000', fontFamily:FONT,
        formatter:v=>String(Math.round(Math.exp(v)))}},
    {type:'value', gridIndex:2, position:'right', min:-8.4, max:108.8, axisLine:{show:false},
      axisTick:{show:false, customValues:stochGridLines}, splitLine:{show:true, lineStyle:{color:HGRID}},
      axisLabel:{customValues:stochTicks, margin:5, fontSize:10, color:'#000', fontFamily:FONT}}
  ],
  visualMap:[{type:'piecewise', show:false, seriesIndex:priceIndex, dimension:0, pieces:downPieces, outOfRange:{color:upColor}}],
  series: series,
  graphic:[
    txt(15, 11, '$USB', 'bold 13px '+FONT, '#000'),
    txt(53, 11, '30-Year US Treasury Bond Price (EOD)', '11px '+FONT, '#000'),
    txt(250, 11, 'INDX', '9px '+FONT, '#000'),
    txt(482, 11, '\u00A9StockCharts.com', '11px '+FONT, '#333', 'right'),
    txt(5, 24, '5-Mar-2013', '11px '+FONT, '#000'),
    {type:'text', z:100, silent:true, style:{x:483, y:24, text:quoteText, font:'11px '+FONT, fill:'#000', align:'right', textAlign:'right', verticalAlign:'middle', textVerticalAlign:'middle',
      rich:{b:{fontWeight:'bold', fontSize:11, fontFamily:FONT, fill:'#000', color:'#000'}, r:{fontSize:9, fontFamily:FONT, fill:'#c00000', color:'#c00000'}}}},
    txt(18, 135, '$USB (Daily)', '10.5px DejaVu Sans, Verdana, sans-serif', '#000'),
    txt(197, 116, 'V', 'bold 20px '+FONT, '#ee0000', 'center'),
    txt(338, 144, '[2]', 'bold 20px '+FONT, '#0000e0', 'center'),
    txt(266, 286, '[1]', 'bold 20px '+FONT, '#0000e0', 'center'),
    txt(471, 239, '(2)', 'bold 19px '+FONT, '#111', 'center'),
    txt(443, 327, '(1)', 'bold 19px '+FONT, '#111', 'center'),
    txt(33, 421, 'IV', 'bold 17px '+FONT, '#ee0000', 'center'),
    {type:'rect', z:99, silent:true, shape:{x:213.5, y:352.5, width:212, height:45},
      style:{fill:'#fff', stroke:'#8a8a8a', lineWidth:1, shadowBlur:2, shadowOffsetX:2, shadowOffsetY:2, shadowColor:'rgba(0,0,0,0.35)'}},
    txt(217, 367, 'Potential Head & Shoulders', 'bold 15px '+FONT, '#000'),
    txt(217, 387, 'Min. Target = 130.51', 'bold 15px '+FONT, '#000')
  ]
};
const chart = echarts.init(document.getElementById('c'), null, {renderer:'canvas'});
chart.setOption(option);
</script>
</body></html>
